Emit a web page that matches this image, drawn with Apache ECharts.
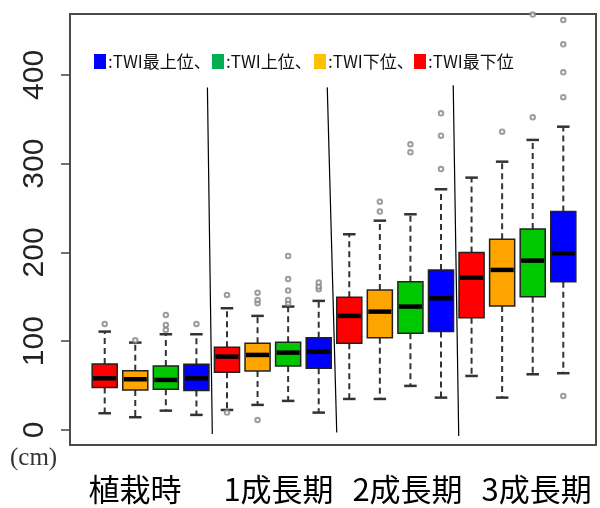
<!DOCTYPE html>
<html>
<head>
<meta charset="utf-8">
<script src="https://cdn.jsdelivr.net/npm/echarts@6/dist/echarts.min.js"></script>
<style>
html,body{margin:0;padding:0;background:#fff;}
#chart{width:600px;height:508px;}
</style>
</head>
<body>
<div id="chart"></div>
<script>
// ---- data ----
const groupLabels = ['植栽時', '1成長期', '2成長期', '3成長期'];
const twiClasses = ['TWI最下位', 'TWI下位', 'TWI上位', 'TWI最上位'];
const boxNames = [];
groupLabels.forEach(g => twiClasses.forEach(t => boxNames.push(g + ' ' + t)));

const whiskerLow  = [18.8, 14.3, 21.7, 16.9,  22.5, 28.2, 32.7, 19.5,  34.9, 34.9, 49.6, 36.4,  60.8, 36.4, 62.7, 63.9];
const q1Values    = [47.7, 45.0, 45.8, 44.3,  65.0, 66.5, 72.1, 69.5,  97.7, 104.0, 108.9, 110.8, 126.5, 139.7, 150.2, 167.1];
const medianValues= [58.2, 57.1, 56.3, 58.2,  82.6, 84.5, 87.1, 88.2,  128.5, 133.3, 139.0, 148.4, 171.6, 180.3, 190.8, 199.1];
const q3Values    = [74.4, 66.8, 72.1, 74.0,  93.2, 97.7, 98.8, 104.0, 149.5, 157.7, 167.1, 180.3, 199.8, 214.9, 226.5, 246.0];
const whiskerHigh = [110.8, 98.4, 107.8, 107.8, 137.1, 128.5, 139.0, 145.4, 220.5, 235.8, 243.0, 271.2, 284.3, 302.3, 326.8, 341.7];
const outlierValues = [
  [119.4], [101.0], [112.7, 118.3, 129.6], [119.4],
  [152.1, 19.5], [142.7, 146.5, 154.7, 11.3], [142.7, 146.5, 157.0, 170.0, 196.0], [158.5, 161.5, 166.0],
  [], [246.0, 257.2], [312.9, 321.9], [294.0, 331.6, 356.8],
  [], [336.1], [352.3, 468.0], [38.3, 374.9, 403.0, 434.6, 462.0]
];
const yTickValues = [0, 100, 200, 300, 400];
// group separator lines: [x(box index units), y(cm)] top and bottom
const separator1 = [[3.36, 386], [3.52, -4.5]];
const separator2 = [[7.28, 386], [7.59, -3]];
const separator3 = [[11.40, 388.4], [11.58, -6.8]];

// ---- styles ----
const boxColors = ['#ff0000', '#ffa500', '#00c800', '#0000ff'];
const legendItems = [
  {color: '#0000ff', text: ':TWI最上位、', x: 94},
  {color: '#00b050', text: ':TWI上位、', x: 212},
  {color: '#ffc000', text: ':TWI下位、', x: 314},
  {color: '#ff0000', text: ':TWI最下位', x: 414}
];

const boxData = boxNames.map((n, i) => [i, whiskerLow[i], q1Values[i], medianValues[i], q3Values[i], whiskerHigh[i]]);
const outlierData = [];
outlierValues.forEach((arr, i) => arr.forEach(v => outlierData.push([i, v])));

function renderBox(params, api) {
  const i = api.value(0);
  const lo = api.value(1), q1 = api.value(2), md = api.value(3), q3 = api.value(4), hi = api.value(5);
  const cx = api.coord([i, 0])[0];
  const w = api.size([0.82, 0])[0];
  const cap = w * 0.5;
  const y = v => api.coord([i, v])[1];
  const color = boxColors[params.dataIndex % 4];
  const dash = {stroke: '#333', lineWidth: 2, lineDash: [6, 4]};
  const solid = {stroke: '#333', lineWidth: 2.5};
  return {
    type: 'group',
    children: [
      {type: 'line', shape: {x1: cx, y1: y(q3), x2: cx, y2: y(hi)}, style: dash},
      {type: 'line', shape: {x1: cx, y1: y(q1), x2: cx, y2: y(lo)}, style: dash},
      {type: 'line', shape: {x1: cx - cap / 2, y1: y(hi), x2: cx + cap / 2, y2: y(hi)}, style: solid},
      {type: 'line', shape: {x1: cx - cap / 2, y1: y(lo), x2: cx + cap / 2, y2: y(lo)}, style: solid},
      {type: 'rect', shape: {x: cx - w / 2, y: y(q3), width: w, height: y(q1) - y(q3)},
        style: {fill: color, stroke: '#222', lineWidth: 1.5}},
      {type: 'line', shape: {x1: cx - w / 2 + 1, y1: y(md), x2: cx + w / 2 - 1, y2: y(md)},
        style: {stroke: '#000', lineWidth: 4.5}}
    ]
  };
}

const graphics = [];
legendItems.forEach(it => {
  graphics.push({type: 'rect', left: it.x, top: 54, shape: {width: 12, height: 15}, style: {fill: it.color}, z: 100});
  graphics.push({type: 'text', x: it.x + 14, y: 62, style: {text: it.text, fill: '#111',
    font: '17px "Noto Sans CJK JP"', textVerticalAlign: 'middle'}, z: 100});
});
const xLabelCenters = [135, 278.5, 407.5, 536.7];
groupLabels.forEach((g, k) => {
  graphics.push({type: 'text', x: xLabelCenters[k], y: 489, style: {text: g, fill: '#000',
    font: '31px "Noto Sans CJK JP"', textAlign: 'center', textVerticalAlign: 'middle'}});
});
graphics.push({type: 'text', x: 10, y: 458, style: {text: '(cm)', fill: '#333',
  font: '25px "Liberation Serif"', textVerticalAlign: 'middle'}});

const sepStyle = {color: '#000', width: 1.2};
const chart = echarts.init(document.getElementById('chart'), null, {renderer: 'canvas'});
chart.setOption({
  animation: false,
  backgroundColor: '#fff',
  grid: {left: 70, top: 14, width: 526, height: 431, show: true, borderColor: '#4a4a4a', borderWidth: 2, backgroundColor: '#fff'},
  xAxis: {type: 'value', min: -1.135, max: 16.07, show: false},
  yAxis: {
    type: 'value', min: -17, max: 468.7,
    axisLine: {show: false, onZero: false},
    splitLine: {show: false},
    axisTick: {show: true, length: 9, lineStyle: {color: '#444', width: 1.5}, customValues: yTickValues},
    axisLabel: {rotate: 90, margin: 20, fontSize: 30, color: '#222', fontFamily: 'Liberation Sans', customValues: yTickValues}
  },
  graphic: graphics,
  series: [
    {type: 'custom', renderItem: renderBox, data: boxData, encode: {x: 0, y: [1, 2, 3, 4, 5]}, z: 3},
    {type: 'scatter', data: outlierData, symbol: 'emptyCircle', symbolSize: 4.5,
      itemStyle: {color: '#858585', borderWidth: 1.3}, z: 4},
    {type: 'line', data: separator1, symbol: 'none', lineStyle: sepStyle, z: 2},
    {type: 'line', data: separator2, symbol: 'none', lineStyle: sepStyle, z: 2},
    {type: 'line', data: separator3, symbol: 'none', lineStyle: sepStyle, z: 2}
  ]
});
</script>
</body>
</html>
